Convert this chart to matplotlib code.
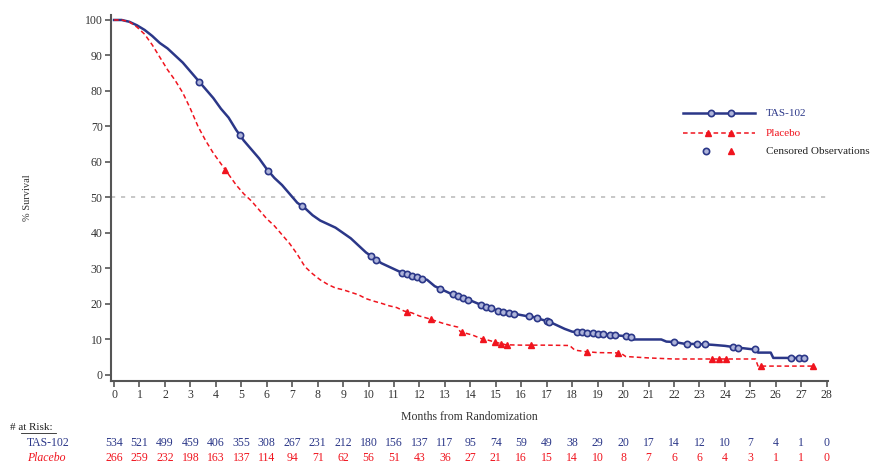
import numpy as np
import matplotlib
matplotlib.use("Agg")
import matplotlib.pyplot as plt
from matplotlib.lines import Line2D
from matplotlib.transforms import blended_transform_factory

plt.rcParams['font.family'] = ['Liberation Serif', 'DejaVu Serif']

# ---------------- data ----------------
tas_t = [0, 0.3, 0.6, 0.9, 1.2, 1.5, 1.8, 2.1, 2.4, 2.7, 3.0, 3.3, 3.6, 3.9, 4.2, 4.5, 4.8,
         5.1, 5.4, 5.7, 6.0, 6.3, 6.6, 6.9, 7.2, 7.5, 7.8, 8.1, 8.4, 8.7, 9.0, 9.3, 9.6, 9.9,
         10.2, 10.5, 10.8, 11.1, 11.4, 11.7, 12.0, 12.3, 12.6, 12.9, 13.2, 13.5, 13.8, 14.1,
         14.4, 14.7, 15.0, 15.3, 15.6, 15.9, 16.2, 16.5, 16.8, 17.1, 17.4, 17.7, 18.0, 18.5,
         19.0, 19.5, 20.0, 20.3, 20.4, 21.0, 21.5, 21.7, 22.0, 22.4, 23.0, 23.5, 24.0, 24.4,
         25.0, 25.2, 25.3, 25.8, 25.9, 27.2]
tas_s = [100, 100, 99.5, 98.5, 97.2, 95.5, 93.5, 92, 90, 88, 85.5, 83, 80.5, 78, 75, 72.5, 69,
         66, 63.5, 61, 58, 55.5, 53.5, 51, 48.5, 47, 45, 43.5, 42.5, 41.5, 40, 38.5, 36.5, 34.5,
         33, 31.5, 30.5, 29.5, 28.5, 28, 27.3, 26.8, 25, 24, 23, 22.3, 21.5, 20.7,
         19.8, 19, 18.3, 17.7, 17.3, 17, 16.6, 16.3, 15.6, 15, 14, 13, 12.2, 12,
         11.6, 11.3, 11, 10.8, 10.0, 10.0, 10.0, 9.4, 9.3, 8.8, 8.7, 8.5, 8.2, 7.8,
         7.3, 7.2, 6.3, 6.3, 4.8, 4.8]

pla_t = [0, 0.3, 0.6, 0.9, 1.2, 1.5, 1.8, 2.1, 2.4, 2.7, 3.0, 3.3, 3.6, 3.9, 4.2, 4.5, 4.8,
         5.1, 5.4, 5.7, 6.0, 6.3, 6.6, 6.9, 7.2, 7.5, 7.8, 8.1, 8.4, 8.7, 9.0, 9.3, 9.6, 9.9,
         10.2, 10.5, 10.8, 11.1, 11.4, 11.7, 12.0, 12.3, 12.6, 12.9, 13.2, 13.5, 13.6, 13.8,
         14.1, 14.4, 14.7, 15.0, 15.4, 16.0, 17.0, 17.9, 18.1, 18.5, 19.0, 19.9, 20.1, 21.0,
         22.0, 25.2, 25.3, 27.5]
pla_s = [100, 100, 99.5, 98, 96, 93, 89.5, 86, 83, 79.5, 75, 70, 66, 62.5, 59.5, 56.5, 53.5,
         51, 49, 46.5, 44, 42, 39.5, 37, 34, 30.5, 28.5, 26.8, 25.5, 24.5, 24, 23.3, 22.6, 21.5,
         20.8, 20.2, 19.5, 19, 18, 17.5, 16.6, 16, 15.3, 14.6, 14, 13.5, 12.2, 11.8,
         11.2, 10.3, 9.8, 9.2, 8.5, 8.4, 8.4, 8.3, 7.0, 6.6, 6.3, 6.2, 5.2, 4.8,
         4.5, 4.5, 2.5, 2.5]

tas_cens = [3.35, 4.95, 6.05, 7.4, 10.1, 10.3, 11.3, 11.5, 11.7, 11.9, 12.1, 12.8, 13.3, 13.5,
            13.7, 13.9, 14.4, 14.6, 14.8, 15.1, 15.3, 15.5, 15.7, 16.3, 16.6, 17.0, 17.1, 18.2,
            18.4, 18.6, 18.8, 19.0, 19.2, 19.5, 19.7, 20.1, 20.3, 22.0, 22.5, 22.9, 23.2, 24.3,
            24.5, 25.2, 26.6, 26.9, 27.1]
pla_cens = [4.37, 11.5, 12.45, 13.66, 14.5, 14.95, 15.2, 15.45, 16.4, 18.6, 19.8, 23.5, 23.75,
            24.05, 25.4, 27.45]

months = list(range(0, 29))
tas_risk = [534, 521, 499, 459, 406, 355, 308, 267, 231, 212, 180, 156, 137, 117, 95, 74, 59,
            49, 38, 29, 20, 17, 14, 12, 10, 7, 4, 1, 0]
pla_risk = [266, 259, 232, 198, 163, 137, 114, 94, 71, 62, 56, 51, 43, 36, 27, 21, 16, 15, 14,
            10, 8, 7, 6, 6, 4, 3, 1, 1, 0]

NAVY = '#2B3788'
RED = '#F0141E'
CFILL = '#AEB4DA'

fig = plt.figure(figsize=(8.85, 4.66), dpi=100)
ax = fig.add_axes([0.1254, 0.1824, 0.8102, 0.7854])

ax.axhline(50, color='#BDBDBD', lw=1.2, ls=(0, (2.5, 3.5)), zorder=1)

ax.plot(tas_t, tas_s, color=NAVY, lw=1.8, zorder=3)
ax.plot(pla_t, pla_s, color=RED, lw=1.1, ls=(0, (3, 2)), zorder=3)

ax.plot(tas_cens, np.interp(tas_cens, tas_t, tas_s), ls='none', marker='o', ms=4.5,
        mfc=CFILL, mec=NAVY, mew=1.2, zorder=4)
ax.plot(pla_cens, np.interp(pla_cens, pla_t, pla_s), ls='none', marker='^', ms=4.5,
        mfc=RED, mec=RED, zorder=4)

ax.set_xlim(-0.12, 28.05)
ax.set_ylim(-1.7, 101.4)
ax.set_xticks(months)
ax.set_yticks(range(0, 101, 10))
for s in ['top', 'right']:
    ax.spines[s].set_visible(False)
for s in ['left', 'bottom']:
    ax.spines[s].set_color('#555555')
    ax.spines[s].set_linewidth(1.5)
ax.tick_params(axis='both', direction='out', length=4, width=1.2, color='#555555',
               labelsize=8.5, labelcolor='#333333', pad=2)
ax.set_xlabel('Months from Randomization', fontsize=8.5, color='#333333', labelpad=7)
ax.set_ylabel('% Survival', fontsize=7.5, color='#333333', labelpad=38)


def fx(px):
    return px / 885.0


def fy(py):
    return 1 - py / 466.0


# legend (drawn in figure pixel space)
fig.add_artist(Line2D([fx(683), fx(755)], [fy(113), fy(113)], color=NAVY, lw=1.8,
                      transform=fig.transFigure))
fig.add_artist(Line2D([fx(711), fx(731)], [fy(113), fy(113)], ls='none', marker='o', ms=4.5,
                      mfc=CFILL, mec=NAVY, mew=1.2, transform=fig.transFigure))
fig.add_artist(Line2D([fx(683), fx(755)], [fy(133), fy(133)], color=RED, lw=1.1,
                      ls=(0, (3, 2)), transform=fig.transFigure))
fig.add_artist(Line2D([fx(708), fx(731)], [fy(133), fy(133)], ls='none', marker='^', ms=4.5,
                      mfc=RED, mec=RED, transform=fig.transFigure))
fig.add_artist(Line2D([fx(706)], [fy(151)], ls='none', marker='o', ms=4.5,
                      mfc=CFILL, mec=NAVY, mew=1.2, transform=fig.transFigure))
fig.add_artist(Line2D([fx(731)], [fy(151)], ls='none', marker='^', ms=4.5,
                      mfc=RED, mec=RED, transform=fig.transFigure))
fig.text(fx(766), fy(113), 'TAS-102', color=NAVY, fontsize=8, va='center')
fig.text(fx(766), fy(133), 'Placebo', color=RED, fontsize=8, va='center')
fig.text(fx(766), fy(151), 'Censored Observations', color='#222222', fontsize=8, va='center')

# at-risk table
tr = blended_transform_factory(ax.transData, fig.transFigure)
fig.text(fx(10), fy(428), '# at Risk:', fontsize=8, color='#222222', va='center')
fig.add_artist(Line2D([fx(21), fx(56)], [fy(433), fy(433)], color='#222222', lw=0.6,
                      transform=fig.transFigure))
fig.text(fx(27), fy(443), 'TAS-102', fontsize=8.5, color=NAVY, va='center')
fig.text(fx(27), fy(458), 'Placebo', fontsize=8.5, color=RED, va='center', style='italic')
for m, a, b in zip(months, tas_risk, pla_risk):
    ax.text(m, fy(443), str(a), transform=tr, ha='center', va='center', fontsize=8.5,
            color=NAVY, clip_on=False)
    ax.text(m, fy(458), str(b), transform=tr, ha='center', va='center', fontsize=8.5,
            color=RED, clip_on=False)

fig.savefig('out.png', dpi=100)
